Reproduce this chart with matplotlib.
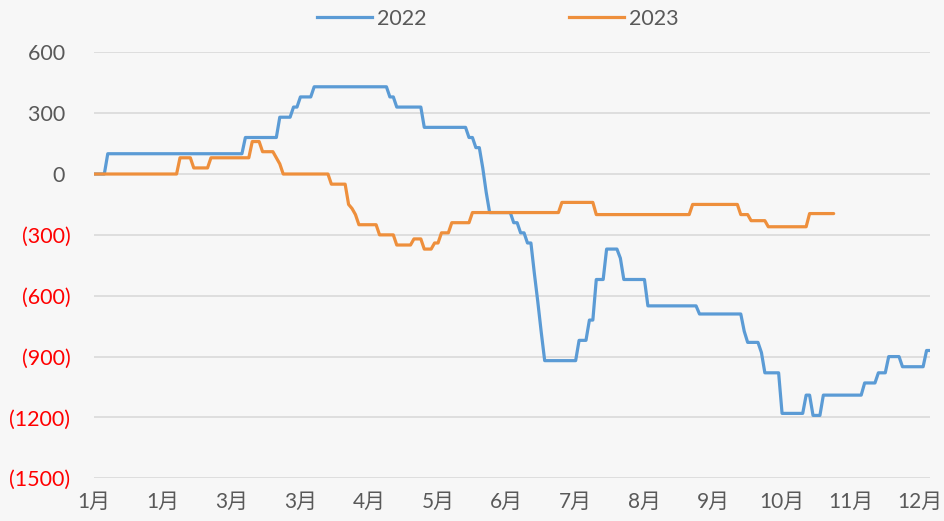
import numpy as np
import matplotlib
matplotlib.use("Agg")
import matplotlib.pyplot as plt
from matplotlib.lines import Line2D

# ---- data (step series: value holds from start index until next start index) ----
n_points = 244
blue_start = [0, 4, 44, 54, 58, 60, 64, 86, 88, 96, 109, 111, 113, 114, 115, 122, 124, 126,
              128, 129, 130, 131, 141, 144, 146, 149, 153, 154, 161, 176, 189, 190, 194, 195,
              200, 207, 209, 212, 224, 228, 231, 235, 242]
blue_vals = [0, 100, 180, 280, 330, 380, 430, 380, 330, 230, 180, 130, 30, -90, -190, -240, -290, -340,
             -490, -630, -780, -920, -820, -720, -520, -370, -415, -520, -650, -690, -775, -830, -880, -980,
             -1180, -1090, -1190, -1090, -1030, -980, -900, -950, -870]

orange_start = [0, 25, 29, 34, 46, 49, 53, 54, 55, 69, 74, 75, 76, 77, 83, 88, 93, 96, 99, 101,
                104, 110, 136, 146, 174, 188, 191, 196, 208]
orange_vals = [0, 80, 30, 80, 160, 110, 80, 50, 0, -50, -150, -170, -200, -250, -300, -350, -320, -370, -340, -290,
               -240, -190, -140, -200, -150, -200, -230, -260, -195]
orange_end = 216

tick_labels = ["1月", "1月", "3月", "3月", "4月", "5月", "6月", "7月", "8月", "9月", "10月", "11月", "12月"]
tick_step = 20
y_ticks = [600, 300, 0, -300, -600, -900, -1200, -1500]
series_names = ["2022", "2023"]


def expand(starts, vals, end):
    lengths = np.diff(list(starts) + [end])
    return np.repeat(np.array(vals, dtype=float), lengths)


blue = expand(blue_start, blue_vals, n_points)
orange = expand(orange_start, orange_vals, orange_end)

BLUE = "#5B9BD5"
ORANGE = "#EE8F3C"
BG = "#F7F7F7"
GRID = "#D9D9D9"
TXT = "#595959"

fig = plt.figure(figsize=(9.44, 5.21), dpi=100, facecolor=BG)
ax = fig.add_axes([94 / 944, 1 - 478.3 / 521, (930 - 94) / 944, (478.3 - 52.3) / 521])
ax.set_facecolor(BG)

ax.plot(np.arange(len(blue)), blue, color=BLUE, lw=2.3, solid_joinstyle="round", solid_capstyle="round", zorder=3)
ax.plot(np.arange(len(orange)), orange, color=ORANGE, lw=2.3, solid_joinstyle="round", solid_capstyle="round", zorder=3)

ax.set_xlim(0, n_points - 1)
ax.set_ylim(-1500, 600)
ax.set_yticks(y_ticks)
ylabels = []
for v in y_ticks:
    ylabels.append(f"{v} " if v >= 0 else f"({-v})")
ax.set_yticklabels(ylabels, fontfamily=["Lato", "DejaVu Sans"], fontsize=15.5)
for lab, v in zip(ax.get_yticklabels(), y_ticks):
    lab.set_color(TXT if v >= 0 else "#FF0000")

ax.set_xticks(np.arange(0, tick_step * len(tick_labels), tick_step))
ax.set_xticklabels(tick_labels, fontfamily=["Lato", "Noto Sans CJK SC"], fontsize=15, color=TXT)

ax.grid(axis="y", color=GRID, lw=1.2, zorder=0)
ax.grid(axis="x", visible=False)
for s in ax.spines.values():
    s.set_visible(False)
ax.tick_params(axis="both", length=0)
ax.tick_params(axis="y", pad=17)
ax.tick_params(axis="x", pad=10)

handles = [Line2D([], [], color=BLUE, lw=2.3), Line2D([], [], color=ORANGE, lw=2.3)]
fig.legend(handles, series_names, loc="center", bbox_to_anchor=(498 / 944, 1 - 19 / 521), ncol=2,
           frameon=False, prop={"family": ["Lato", "DejaVu Sans"], "size": 15.5},
           labelcolor=TXT, handlelength=2.55, handletextpad=0.25, columnspacing=6.6)

fig.savefig("out.png", dpi=100, facecolor=BG)
